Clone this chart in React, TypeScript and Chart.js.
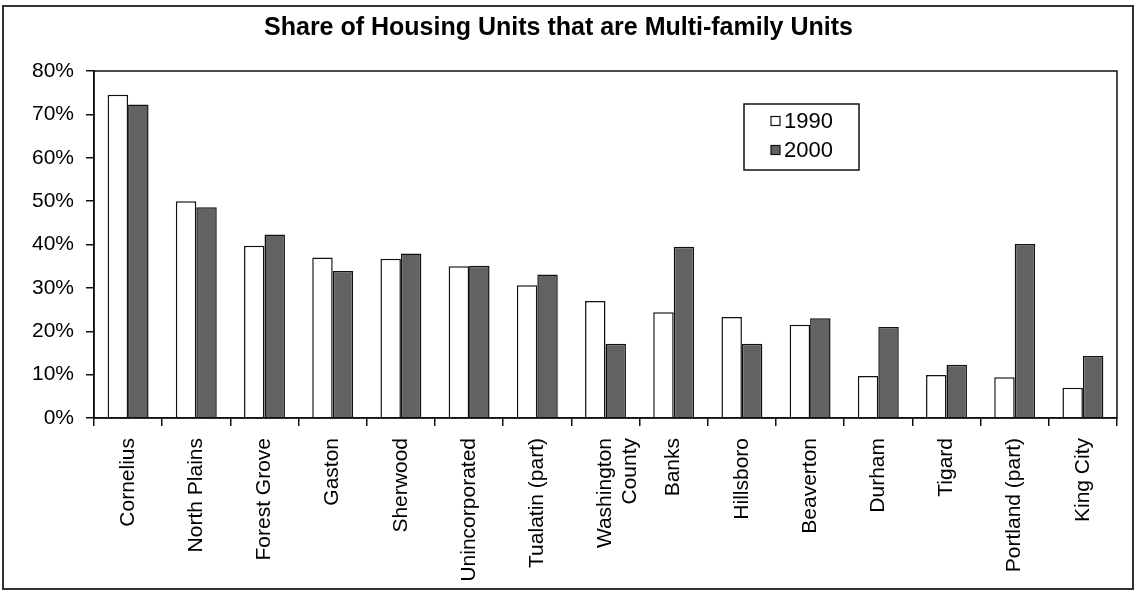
import React, { useEffect, useRef } from "react";
import { Chart, registerables } from "chart.js";

Chart.register(...registerables);

const categories: (string | string[])[] = [
  "Cornelius",
  "North Plains",
  "Forest Grove",
  "Gaston",
  "Sherwood",
  "Unincorporated",
  "Tualatin (part)",
  ["Washington", "County"],
  "Banks",
  "Hillsboro",
  "Beaverton",
  "Durham",
  "Tigard",
  "Portland (part)",
  "King City",
];

const values1990 = [74.5, 50.0, 39.7, 37.0, 36.7, 35.0, 30.6, 27.0, 24.4, 23.3, 21.5, 9.7, 9.9, 9.4, 7.0];
const values2000 = [72.3, 48.6, 42.3, 33.9, 37.9, 35.1, 33.1, 17.1, 39.5, 17.1, 23.0, 21.0, 12.3, 40.1, 14.3];

const seriesLabels = ["1990", "2000"];
const chartTitle = "Share of Housing Units that are Multi-family Units";

const FONT = "'Liberation Sans', Arial, sans-serif";

const frameAndLegend = {
  id: "frameAndLegend",
  afterDraw(chart: any) {
    const ctx = chart.ctx;
    const ca = chart.chartArea;
    ctx.save();
    // plot area border
    ctx.strokeStyle = "#111";
    ctx.lineWidth = 1.5;
    ctx.strokeRect(ca.left, ca.top, ca.right - ca.left, ca.bottom - ca.top);
    // outer frame
    ctx.strokeStyle = "#333";
    ctx.lineWidth = 2;
    ctx.strokeRect(3, 6, chart.width - 6, chart.height - 10);
    // legend
    const lx = 744, ly = 104, lw = 115, lh = 66;
    ctx.fillStyle = "#fff";
    ctx.fillRect(lx, ly, lw, lh);
    ctx.strokeStyle = "#111";
    ctx.lineWidth = 1.5;
    ctx.strokeRect(lx, ly, lw, lh);
    const ds = chart.data.datasets;
    const rows = [121, 150];
    ctx.font = `22px ${FONT}`;
    ctx.textBaseline = "middle";
    ctx.textAlign = "left";
    ds.forEach((d: any, i: number) => {
      const y = rows[i];
      ctx.fillStyle = d.backgroundColor;
      ctx.fillRect(771, y - 4.5, 9, 9);
      ctx.strokeStyle = "#111";
      ctx.lineWidth = 1.2;
      ctx.strokeRect(771, y - 4.5, 9, 9);
      ctx.fillStyle = "#000";
      ctx.fillText(d.label, 784, y + 1);
    });
    ctx.restore();
  },
};

export default function App() {
  const canvasRef = useRef<HTMLCanvasElement | null>(null);

  useEffect(() => {
    document.body.style.margin = "0";
    document.body.style.background = "#fff";
    const canvas = canvasRef.current;
    if (!canvas) return;
    const chart = new Chart(canvas, {
      type: "bar",
      data: {
        labels: categories,
        datasets: [
          {
            label: seriesLabels[0],
            data: values1990,
            backgroundColor: "#ffffff",
            borderColor: "#111",
            borderWidth: 1.5,
            categoryPercentage: 0.6,
            barPercentage: 1.0,
          },
          {
            label: seriesLabels[1],
            data: values2000,
            backgroundColor: "#626262",
            borderColor: "#111",
            borderWidth: 1.5,
            categoryPercentage: 0.6,
            barPercentage: 1.0,
          },
        ],
      },
      options: {
        animation: false,
        responsive: false,
        maintainAspectRatio: false,
        layout: { padding: { left: 0, right: 19, top: 0, bottom: 0 } },
        plugins: {
          legend: { display: false },
          tooltip: { enabled: false },
          title: {
            display: true,
            text: chartTitle,
            color: "#000",
            font: { family: FONT, size: 25, weight: "bold" },
            padding: { top: 13, bottom: 28 },
          },
        },
        scales: {
          x: {
            grid: {
              display: true,
              drawOnChartArea: false,
              drawTicks: true,
              tickLength: 8,
              color: "#111",
              lineWidth: 1.5,
              offset: true,
            },
            border: { display: true, color: "#111", width: 1.5 },
            ticks: {
              color: "#000",
              font: { family: FONT, size: 21 },
              minRotation: 90,
              maxRotation: 90,
              autoSkip: false,
              padding: 12,
            },
            afterFit(scale: any) {
              scale.height = 175;
            },
          },
          y: {
            min: 0,
            max: 80,
            grid: {
              display: true,
              drawOnChartArea: false,
              drawTicks: true,
              tickLength: 8,
              color: "#111",
              lineWidth: 1.5,
            },
            border: { display: true, color: "#111", width: 1.5 },
            ticks: {
              stepSize: 10,
              color: "#000",
              font: { family: FONT, size: 21 },
              padding: 12,
              callback: (v: any) => `${v}%`,
            },
            afterFit(scale: any) {
              scale.width = 94;
            },
          },
        },
      },
      plugins: [frameAndLegend],
    });
    return () => chart.destroy();
  }, []);

  return (
    <div style={{ position: "fixed", left: 0, top: 0, width: 1136, height: 593, background: "#fff" }}>
      <canvas ref={canvasRef} width={1136} height={593} style={{ width: 1136, height: 593, display: "block" }} />
    </div>
  );
}
